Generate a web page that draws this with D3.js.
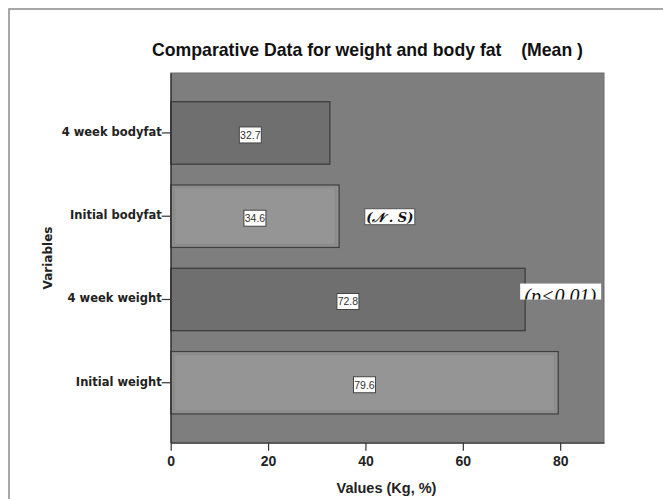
<!DOCTYPE html>
<html><head><meta charset="utf-8">
<script src="https://cdnjs.cloudflare.com/ajax/libs/d3/7.8.5/d3.min.js"></script>
<style>body{margin:0;background:#fff}svg{display:block}</style>
</head><body>
<script>
const categories = ["4 week bodyfat", "Initial bodyfat", "4 week weight", "Initial weight"];
const values = [32.7, 34.6, 72.8, 79.6];
const barKinds = ["after", "initial", "after", "initial"];
const xTicks = [0, 20, 40, 60, 80];
const annotations = [{text: "(\u{1D4A9} . S)", x: 45, cat: "Initial bodyfat"}, {text: "(p<0.01)", x: 80.2, cat: "4 week weight"}];

const W = 663, H = 499;
const svg = d3.select("body").append("svg").attr("width", W).attr("height", H);
const plot = {l: 170.7, r: 604, t: 73, b: 442.7};

// outer frame
svg.append("path").attr("d", `M9,${H} V9 H${W}`).attr("fill", "none").attr("stroke", "#8a8a8a").attr("stroke-width", 1.5);

const x = d3.scaleLinear().domain([0, 89]).range([plot.l, plot.r]);
const y = d3.scaleBand().domain(categories).range([plot.t, plot.b]).paddingInner(0.25).paddingOuter(0.345);

svg.append("rect").attr("x", plot.l).attr("y", plot.t).attr("width", plot.r - plot.l).attr("height", plot.b - plot.t)
  .attr("fill", "#7e7e7e").attr("stroke", "#6a6a6a").attr("stroke-width", 1);

const g = svg.append("g");
categories.forEach((c, i) => {
  const y0 = y(c), bh = y.bandwidth(), x1 = x(values[i]);
  if (barKinds[i] === "initial") {
    g.append("rect").attr("x", x(0)).attr("y", y0).attr("width", x1 - x(0)).attr("height", bh)
      .attr("fill", "#8e8e8e").attr("stroke", "#3f3f3f").attr("stroke-width", 1.2);
    g.append("rect").attr("x", x(0) + 4).attr("y", y0 + 3).attr("width", x1 - x(0) - 8).attr("height", bh - 6)
      .attr("fill", "#959595").attr("stroke", "#8b8b8b").attr("stroke-width", 1);
  } else {
    g.append("rect").attr("x", x(0)).attr("y", y0).attr("width", x1 - x(0)).attr("height", bh)
      .attr("fill", "#6f6f6f").attr("stroke", "#3a3a3a").attr("stroke-width", 1.2);
  }
  const cx = (x(0) + x1) / 2, cy = y0 + bh / 2 + 2;
  const lbl = d3.format(".1f")(values[i]);
  g.append("rect").attr("x", cx - 11).attr("y", cy - 8).attr("width", 22).attr("height", 16)
    .attr("fill", "#fff").attr("stroke", "#444").attr("stroke-width", 1);
  g.append("text").attr("x", cx).attr("y", cy + 4).attr("text-anchor", "middle")
    .attr("font-family", "Liberation Sans, Arial, sans-serif").attr("font-size", 10.5).attr("fill", "#333").text(lbl);
});

// annotations
const a1 = annotations[0];
const ax1 = x(a1.x), ay1 = y(a1.cat) + y.bandwidth() / 2 + 0.5;
svg.append("rect").attr("x", ax1 - 25).attr("y", ay1 - 8).attr("width", 50).attr("height", 16).attr("fill", "#fff").attr("stroke", "#555");
svg.append("text").attr("x", ax1).attr("y", ay1 + 5).attr("text-anchor", "middle")
  .attr("font-family", "DejaVu Serif, serif").attr("font-style", "italic").attr("font-weight", "bold").attr("font-size", 13).attr("fill", "#111").text(a1.text);
const a2 = annotations[1];
const ax2 = x(a2.x), ay2 = y(a2.cat) + 15.3;
svg.append("clipPath").attr("id", "pclip").append("rect").attr("x", ax2 - 41).attr("y", ay2).attr("width", 81).attr("height", 16);
svg.append("rect").attr("x", ax2 - 41).attr("y", ay2).attr("width", 81).attr("height", 16).attr("fill", "#fff");
svg.append("text").attr("clip-path", "url(#pclip)").attr("x", ax2 - 1).attr("y", ay2 + 19).attr("text-anchor", "middle")
  .attr("font-family", "Liberation Serif, serif").attr("font-style", "italic").attr("font-size", 20).attr("fill", "#111").text(a2.text);

// axes
const xAxis = svg.append("g").attr("transform", `translate(0,${plot.b})`)
  .call(d3.axisBottom(x).tickValues(xTicks).tickSize(8).tickSizeOuter(0));
xAxis.select(".domain").attr("stroke", "#333").attr("stroke-width", 1.2);
xAxis.selectAll(".tick line").attr("stroke", "#333").attr("stroke-width", 1.2);
xAxis.selectAll(".tick text").attr("font-family", "Liberation Sans, Arial, sans-serif").attr("font-size", 14).attr("font-weight", "bold").attr("fill", "#222").attr("dy", "0.9em");

const yAxis = svg.append("g").attr("transform", `translate(${plot.l},0)`)
  .call(d3.axisLeft(y).tickSize(9).tickSizeOuter(0));
yAxis.select(".domain").attr("stroke", "#333").attr("stroke-width", 1.2);
yAxis.selectAll(".tick line").attr("stroke", "#333").attr("stroke-width", 1.2);
yAxis.selectAll(".tick text").attr("font-family", "DejaVu Sans, sans-serif").attr("font-size", 11.5).attr("font-weight", "bold").attr("fill", "#222").attr("x", -9).attr("dy", "0.25em");

svg.append("text").attr("x", 386.5).attr("y", 493).attr("text-anchor", "middle")
  .attr("font-family", "Liberation Sans, Arial, sans-serif").attr("font-size", 14.5).attr("font-weight", "bold").attr("fill", "#222").text("Values (Kg, %)");
svg.append("text").attr("transform", "translate(52,258) rotate(-90)").attr("text-anchor", "middle")
  .attr("font-family", "DejaVu Sans, sans-serif").attr("font-size", 12).attr("font-weight", "bold").attr("fill", "#222").text("Variables");

svg.append("text").attr("x", 152).attr("y", 56).attr("text-anchor", "start")
  .attr("font-family", "Liberation Sans, Arial, sans-serif").attr("font-size", 19).attr("font-weight", "bold").attr("fill", "#111")
  .attr("textLength", 431).attr("lengthAdjust", "spacingAndGlyphs")
  .style("white-space", "pre").text("Comparative Data for weight and body fat    (Mean )");
</script>
</body></html>
